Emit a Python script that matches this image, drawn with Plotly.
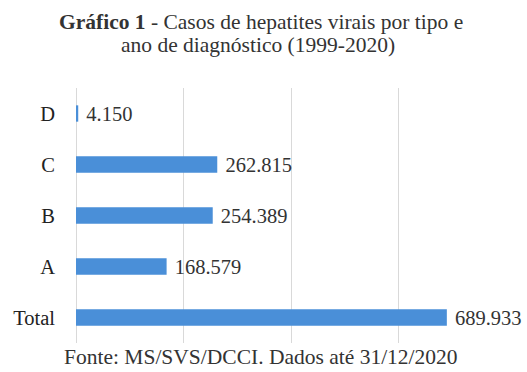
import plotly.graph_objects as go

categories = ["Total", "A", "B", "C", "D"]
values = [689933, 168579, 254389, 262815, 4150]
x_ticks = [0, 200000, 400000, 600000, 800000]

SERIF = "Liberation Serif"

fig = go.Figure(go.Bar(
    y=categories, x=values, orientation="h",
    marker=dict(color="#4a8fd8", line=dict(width=0)),
    texttemplate=" %{x:,.0f}", textposition="outside", cliponaxis=False,
    constraintext="none",
    textfont=dict(family=SERIF, size=20.5, color="#333333"),
))

PW = 527 - 76 - 21
PH = 372 - 88 - 29
CX = (261 - 76) / PW

fig.update_layout(
    width=527, height=372,
    margin=dict(l=76, r=21, t=88, b=29),
    paper_bgcolor="white", plot_bgcolor="white",
    separators=",.",
    bargap=0.68,
    showlegend=False,
    font=dict(family=SERIF, color="#222222"),
    xaxis=dict(
        range=[0, 800000], tickvals=x_ticks, showticklabels=False,
        showgrid=True, gridcolor="#d9d9d9", gridwidth=1,
        zeroline=True, zerolinecolor="#d9d9d9", zerolinewidth=1,
        showline=False, fixedrange=True,
    ),
    yaxis=dict(
        categoryorder="array", categoryarray=categories,
        showgrid=False, zeroline=False, showline=False,
        ticks="", ticklabelstandoff=20,
        tickfont=dict(family=SERIF, size=20.5, color="#222222"),
    ),
    annotations=[
        dict(
            text="<b>Gráfico 1</b> - Casos de hepatites virais por tipo e",
            xref="paper", yref="paper", x=CX, y=(372 - 29 - 22) / PH,
            xanchor="center", yanchor="middle", showarrow=False,
            font=dict(family=SERIF, size=21.5, color="#333333"),
        ),
        dict(
            text="ano de diagnóstico (1999-2020)",
            xref="paper", yref="paper", x=(258 - 76) / PW, y=(372 - 29 - 45) / PH,
            xanchor="center", yanchor="middle", showarrow=False,
            font=dict(family=SERIF, size=21.5, color="#333333"),
        ),
        dict(
            text="Fonte: MS/SVS/DCCI. Dados até 31/12/2020",
            xref="paper", yref="paper", x=CX, y=(372 - 29 - 357) / PH,
            xanchor="center", yanchor="middle", showarrow=False,
            font=dict(family=SERIF, size=21.5, color="#333333"),
        ),
    ],
)

fig.write_html("out.html")
